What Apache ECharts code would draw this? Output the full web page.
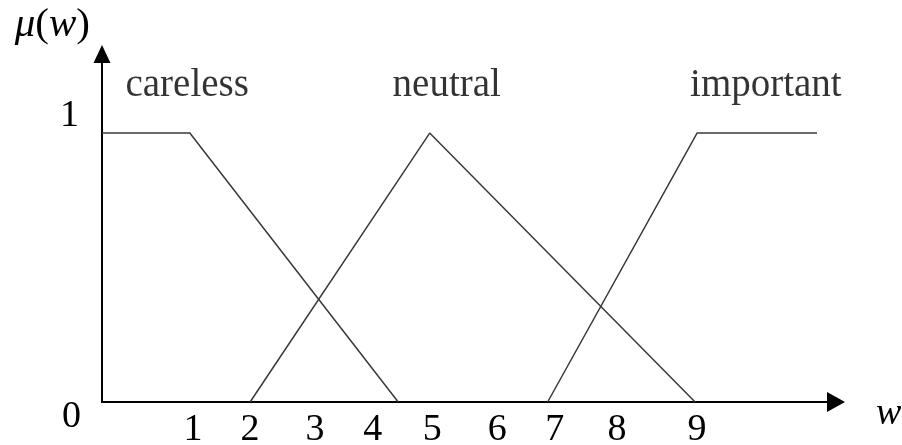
<!DOCTYPE html>
<html lang="en">

<head>
  <meta charset="UTF-8">
  <title>membership functions</title>
  <style>
    html, body { margin: 0; padding: 0; background: #fff; }
  </style>
</head>

<body>
  <div class="main" style="width: 902px;height:445px;"></div>

  <script src="https://cdn.jsdelivr.net/npm/echarts@6/dist/echarts.min.js"></script>
  <script>
    var myChart = echarts.init(document.querySelector('.main'));

    // break points of each membership function, [w, mu]
    const careless = [[0, 1], [1.34, 1], [4.52, 0]]
    const neutral = [[2.26, 0], [5.0, 1], [9.05, 0]]
    const important = [[6.8, 0], [9.08, 1], [10.91, 1]]

    // tick labels under the w axis (they are not evenly spaced in the picture)
    const ticksAt = [1.39, 2.26, 3.25, 4.13, 5.04, 6.03, 6.91, 7.86, 9.08]
    const tickText = ['1', '2', '3', '4', '5', '6', '7', '8', '9']

    // names written above the curves
    const names = ['careless', 'neutral', 'important']
    const nameX = [1.30, 5.26, 10.13]
    const nameY = 1.175

    const font = 'Liberation Serif'
    const lineStyle = { color: '#3a3a3a', width: 1.5 }

    var option = {
      animation: false,
      grid: { left: 102, right: 66, top: 54, bottom: 43, outerBoundsMode: 'none' },
      xAxis: {
        type: 'value',
        min: 0,
        max: 11.2,
        name: '{w|w}',
        nameLocation: 'end',
        nameGap: 40,
        nameTextStyle: {
          rich: {
            w: { fontFamily: font, fontStyle: 'italic', fontSize: 38, color: '#000', padding: [25, 0, 0, 0] }
          }
        },
        axisLine: { lineStyle: { color: '#000', width: 2 }, symbol: ['none', 'triangle'], symbolSize: [20, 18] },
        axisTick: { show: false },
        splitLine: { show: false },
        axisLabel: {
          customValues: ticksAt,
          formatter: (v) => tickText[ticksAt.indexOf(v)],
          fontFamily: font,
          fontSize: 38,
          color: '#000',
          margin: 9
        }
      },
      yAxis: {
        type: 'value',
        min: 0,
        max: 1.294,
        name: '{i|μ}{r|(}{i|w}{r|)}',
        nameLocation: 'end',
        nameGap: 8,
        nameTextStyle: {
          align: 'right',
          padding: [0, 12, 0, 0],
          rich: {
            i: { fontFamily: font, fontStyle: 'italic', fontSize: 41, color: '#000' },
            r: { fontFamily: font, fontSize: 41, color: '#000' }
          }
        },
        axisLine: { lineStyle: { color: '#000', width: 2 }, symbol: ['none', 'triangle'], symbolSize: [17, 18] },
        axisTick: { show: false },
        splitLine: { show: false },
        axisLabel: {
          customValues: [0, 1],
          formatter: (v) => v === 0 ? '{zero|0}' : '{one|1}',
          margin: 21,
          rich: {
            zero: { fontFamily: font, fontSize: 38, color: '#000', padding: [30, 0, 0, 0] },
            one: { fontFamily: font, fontSize: 38, color: '#000', padding: [0, 2, 35, 0] }
          }
        }
      },
      series: [
        { name: 'careless', type: 'line', data: careless, symbol: 'none', lineStyle: lineStyle },
        { name: 'neutral', type: 'line', data: neutral, symbol: 'none', lineStyle: lineStyle },
        { name: 'important', type: 'line', data: important, symbol: 'none', lineStyle: lineStyle },
        {
          type: 'scatter',
          symbolSize: 0,
          data: names.map((n, i) => ({ name: n, value: [nameX[i], nameY] })),
          label: {
            show: true,
            position: 'inside',
            formatter: '{b}',
            fontFamily: font,
            fontSize: 39,
            color: '#000'
          }
        }
      ]
    };

    myChart.setOption(option);
  </script>
</body>

</html>
